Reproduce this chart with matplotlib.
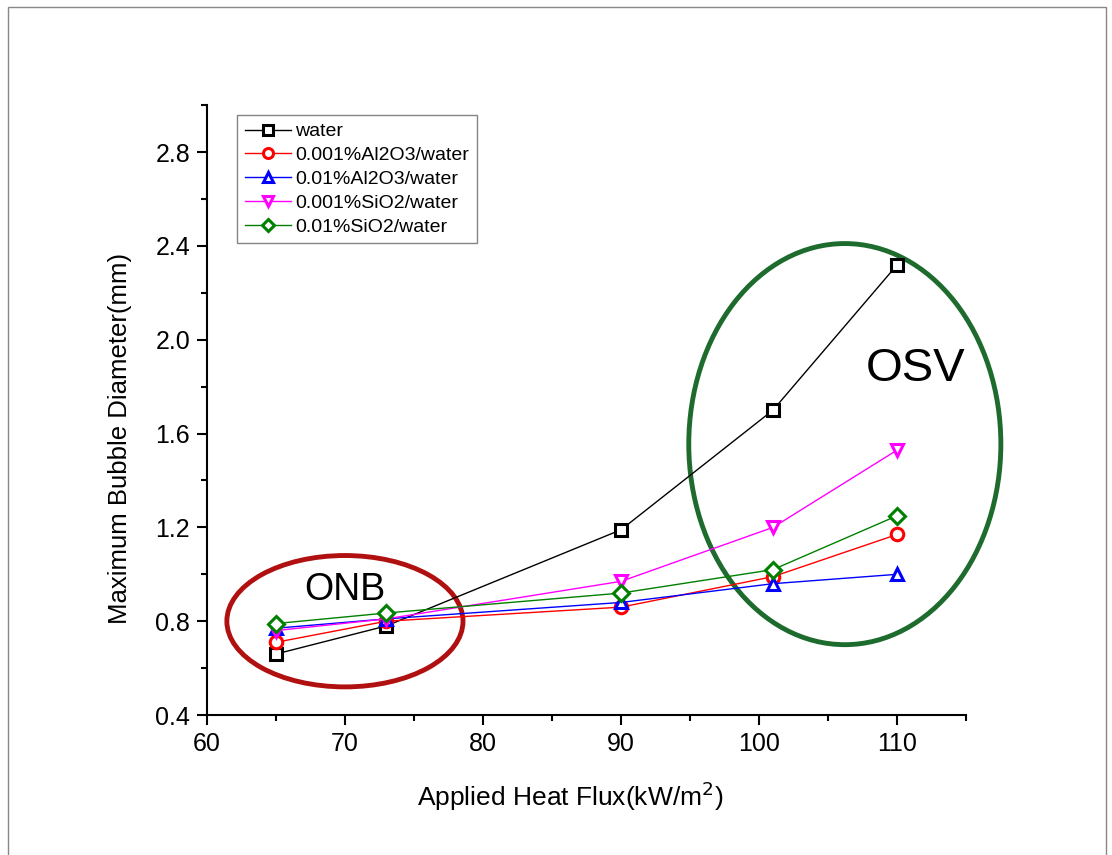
import numpy as np
import matplotlib.pyplot as plt
from matplotlib.patches import Ellipse, Rectangle
from matplotlib.ticker import MultipleLocator

plt.rcParams['font.family'] = ['Liberation Sans', 'DejaVu Sans']

heat_flux = [65, 73, 90, 101, 110]
water = [0.66, 0.78, 1.19, 1.70, 2.32]
al2o3_001 = [0.71, 0.80, 0.86, 0.99, 1.17]
al2o3_01 = [0.77, 0.81, 0.88, 0.96, 1.00]
sio2_001 = [0.76, 0.81, 0.97, 1.20, 1.53]
sio2_01 = [0.79, 0.835, 0.92, 1.02, 1.25]

series = [
    ("water", water, "black", "s"),
    ("0.001%Al2O3/water", al2o3_001, "red", "o"),
    ("0.01%Al2O3/water", al2o3_01, "blue", "^"),
    ("0.001%SiO2/water", sio2_001, "magenta", "v"),
    ("0.01%SiO2/water", sio2_01, "green", "D"),
]

fig = plt.figure(figsize=(11.12, 8.55), dpi=100)
# thin frame around the figure
fig.patches.append(Rectangle((0.007, -0.01), 0.988, 1.002, transform=fig.transFigure,
                             fill=False, edgecolor="#888888", linewidth=1))
ax = fig.add_axes([0.186, 0.1637, 0.683, 0.7133])

for label, vals, color, marker in series:
    ms = 8 if marker == "D" else 9
    ax.plot(heat_flux, vals, color=color, marker=marker, markersize=ms,
            markerfacecolor="white", markeredgewidth=2.2, linewidth=1,
            label=label)

# ONB / OSV regions
ax.add_patch(Ellipse((70, 0.8), 17.1, 0.56, fill=False, edgecolor="#b01010",
                     linewidth=3.5, clip_on=False))
ax.add_patch(Ellipse((106.2, 1.555), 22.6, 1.71, fill=False, edgecolor="#1e6b2e",
                     linewidth=3.5, clip_on=False))
ax.text(70, 0.935, "ONB", fontsize=27, ha="center", va="center")
ax.text(111.3, 1.875, "OSV", fontsize=34, ha="center", va="center")

ax.set_xlim(60, 115)
ax.set_ylim(0.4, 3.0)
ax.xaxis.set_major_locator(MultipleLocator(10))
ax.xaxis.set_minor_locator(MultipleLocator(5))
ax.yaxis.set_minor_locator(MultipleLocator(0.2))
ax.set_yticks([0.4, 0.8, 1.2, 1.6, 2.0, 2.4, 2.8])
ax.yaxis.set_major_formatter(plt.FormatStrFormatter('%.1f'))

for s in ["top", "right"]:
    ax.spines[s].set_visible(False)
for s in ["left", "bottom"]:
    ax.spines[s].set_linewidth(1.5)
ax.tick_params(which="major", direction="out", length=7, width=1.5, labelsize=18, pad=5)
ax.tick_params(which="minor", direction="out", length=4, width=1.5)

ax.set_xlabel("Applied Heat Flux(kW/m$^2$)", fontsize=19)
ax.set_ylabel("Maximum Bubble Diameter(mm)", fontsize=18.5)
ax.xaxis.set_label_coords(0.478, -0.105)
ax.yaxis.set_label_coords(-0.098, 0.453)

leg = ax.legend(loc="upper left", bbox_to_anchor=(0.0395, 0.984), borderaxespad=0,
                fontsize=14, frameon=True, fancybox=False, edgecolor="#666666",
                handlelength=2.4, handletextpad=0.2, labelspacing=0.32,
                borderpad=0.4, markerscale=0.8)
leg.get_frame().set_linewidth(1.0)

fig.savefig("out.png", dpi=100)
